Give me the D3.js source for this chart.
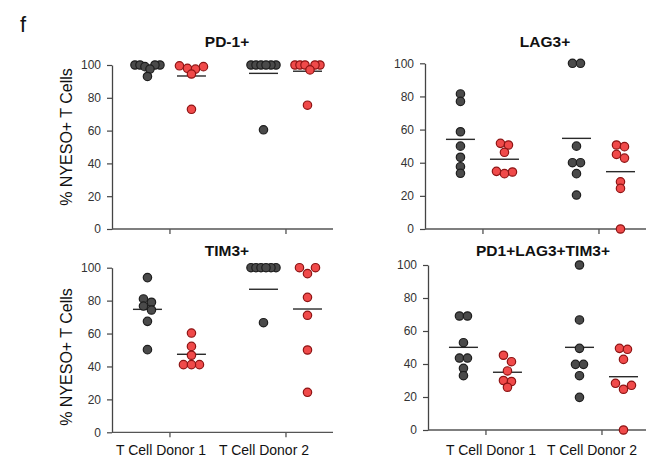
<!DOCTYPE html>
<html>
<head>
<meta charset="utf-8">
<script src="https://cdn.jsdelivr.net/npm/d3@7"></script>
<style>
  body { margin: 0; background: #fff; }
  svg { font-family: "Liberation Sans", Arial, sans-serif; }
</style>
</head>
<body>
<svg width="646" height="458"></svg>
<script>
// data
var donors = ["T Cell Donor 1", "T Cell Donor 2"];
var panelTitles = ["PD-1+", "LAG3+", "TIM3+", "PD1+LAG3+TIM3+"];
var yTicks = [0, 20, 40, 60, 80, 100];

// order in each panel: donor1 grey, donor1 red, donor2 grey, donor2 red
var pd1Values = [
    [100, 100, 100, 100, 99, 97.5, 93],
    [97.5, 99, 99.5, 98, 94.5, 73],
    [100, 100, 100, 100, 100, 100, 60.5],
    [100, 100, 100, 100, 100, 97, 75.5]
];
var lag3Values = [
    [81.5, 77, 58.7, 50, 43.3, 37.6, 33.6],
    [50.7, 51.7, 46.3, 34.8, 33.4, 34.4],
    [100, 100, 50, 40, 40, 33.4, 20.5],
    [50.7, 49.7, 42.8, 45, 28.5, 24.5, 0]
];
var tim3Values = [
    [94, 81, 79, 76.7, 74.3, 67.4, 50.2],
    [60.3, 52.2, 46.8, 41.1, 41.1, 41.1],
    [100, 100, 100, 100, 100, 100, 66.6],
    [100, 100, 96.4, 82, 71.1, 50, 24.3]
];
var tripleValues = [
    [69.1, 69.1, 52.9, 43.6, 43.6, 37.4, 32.9],
    [45.3, 41.4, 35.8, 30, 29.4, 25.9],
    [100, 66.7, 49.5, 39.8, 39.8, 32.9, 19.8],
    [49.5, 48.9, 42.8, 27.1, 24.7, 28.3, 0]
];

var pd1Means = [98.4, 93.3, 94.9, 96.2];
var lag3Means = [54.1, 42.1, 54.7, 34.6];
var tim3Means = [74.7, 47.4, 86.9, 74.9];
var tripleMeans = [50.1, 35, 50.1, 32.3];

var allValues = [pd1Values, lag3Values, tim3Values, tripleValues];
var allMeans = [pd1Means, lag3Means, tim3Means, tripleMeans];

// layout
var panelWidth = 221;
var panels = [
    {x0: 112, yTop: 65, yBot: 229, titleX: 227, titleY: 47},
    {x0: 425, yTop: 63.3, yBot: 229, titleX: 545, titleY: 47},
    {x0: 112, yTop: 267.7, yBot: 432.3, titleX: 227, titleY: 256},
    {x0: 428, yTop: 265, yBot: 430, titleX: 543, titleY: 256}
];
var groupOffset = 22,
    meanHalf = 14.5,
    radius = 4.2,
    rowGap = 8,
    rowMaxSpan = 25,
    binPx = 6.5;

var fills = ["#4a4a4a", "#f04a4a"],
    strokes = ["#1e1e1e", "#8e1414"];

var svg = d3.select("svg");

svg.append("text")
    .attr("x", 20).attr("y", 32)
    .attr("font-size", 22)
    .attr("fill", "#111")
    .text("f");

// prism-like scatter: points close in y share a centred row,
// highest values go to the outside, lowest to the middle
function swarm(vals, y) {
    var sorted = vals.slice().sort(function (a, b) { return b - a; });
    var bins = [];
    sorted.forEach(function (v) {
        var last = bins[bins.length - 1];
        if (last && y(v) - y(last[0]) <= binPx) last.push(v);
        else bins.push([v]);
    });
    var out = [];
    bins.forEach(function (b) {
        var n = b.length;
        var gap = n > 1 ? Math.min(rowGap, rowMaxSpan / (n - 1)) : 0;
        var slots = d3.range(n).map(function (i) { return (i - (n - 1) / 2) * gap; });
        // slot order: outer left, outer right, next left, ...
        var order = [];
        var lo = 0, hi = n - 1;
        while (lo <= hi) {
            order.push(lo);
            if (hi !== lo) order.push(hi);
            lo++; hi--;
        }
        b.forEach(function (v, i) {
            out.push({v: v, dx: slots[order[i]], y: y(v)});
        });
    });
    return out;
}

panels.forEach(function (p, pi) {
    var g = svg.append("g").attr("transform", "translate(" + p.x0 + ",0)");

    var yScale = d3.scaleLinear().domain([0, 100]).range([p.yBot, p.yTop]);
    var xScale = d3.scalePoint().domain(donors)
        .range([panelWidth * 0.26, panelWidth * 0.785]);

    // y axis
    var yAxis = d3.axisLeft(yScale).tickValues(yTicks).tickSize(5).tickPadding(6).tickSizeOuter(0);
    var ya = g.append("g").call(yAxis);
    ya.select(".domain").attr("stroke", "#444").attr("stroke-width", 1.3);
    ya.selectAll(".tick line").attr("stroke", "#444").attr("stroke-width", 1.2);
    ya.selectAll(".tick text").attr("font-size", 12).attr("fill", "#333")
        .attr("font-family", "Liberation Sans, Arial, sans-serif");

    // x axis
    var xAxis = d3.axisBottom(xScale).tickSize(5).tickFormat("");
    var xa = g.append("g").attr("transform", "translate(0," + p.yBot + ")").call(xAxis);
    xa.select(".domain").remove();
    xa.selectAll(".tick line").attr("stroke", "#444").attr("stroke-width", 1.2);
    g.append("line")
        .attr("x1", 0).attr("x2", panelWidth)
        .attr("y1", p.yBot).attr("y2", p.yBot)
        .attr("stroke", "#555").attr("stroke-width", 1.3);

    // title
    svg.append("text")
        .attr("x", p.titleX).attr("y", p.titleY)
        .attr("text-anchor", "middle")
        .attr("font-size", 15.5).attr("font-weight", "bold").attr("fill", "#111")
        .text(panelTitles[pi]);

    // groups
    allValues[pi].forEach(function (vals, gi) {
        var donor = donors[Math.floor(gi / 2)];
        var cx = xScale(donor) + (gi % 2 === 0 ? -groupOffset : groupOffset);
        var pts = swarm(vals, yScale);

        g.append("line")
            .attr("x1", cx - meanHalf).attr("x2", cx + meanHalf)
            .attr("y1", yScale(allMeans[pi][gi])).attr("y2", yScale(allMeans[pi][gi]))
            .attr("stroke", "#2a2a2a").attr("stroke-width", 1.4);

        g.selectAll(".pt" + gi)
            .data(pts)
            .enter()
            .append("circle")
            .attr("cx", function (d) { return cx + d.dx; })
            .attr("cy", function (d) { return d.y; })
            .attr("r", radius)
            .attr("fill", fills[gi % 2])
            .attr("stroke", strokes[gi % 2])
            .attr("stroke-width", 1.2);
    });
});

// y labels
[{x: 72, y: 137}, {x: 72, y: 357}].forEach(function (d) {
    svg.append("text")
        .attr("transform", "translate(" + d.x + "," + d.y + ") rotate(-90)")
        .attr("text-anchor", "middle")
        .attr("font-size", 16).attr("fill", "#111")
        .text("% NYESO+ T Cells");
});

// category labels under the bottom panels
var labelPos = [[112, [49, 152]], [428, [63, 164]]];
labelPos.forEach(function (lp) {
    donors.forEach(function (name, i) {
        svg.append("text")
            .attr("x", lp[0] + lp[1][i]).attr("y", 455)
            .attr("text-anchor", "middle")
            .attr("font-size", 14).attr("fill", "#111")
            .text(name);
    });
});
</script>
</body>
</html>
